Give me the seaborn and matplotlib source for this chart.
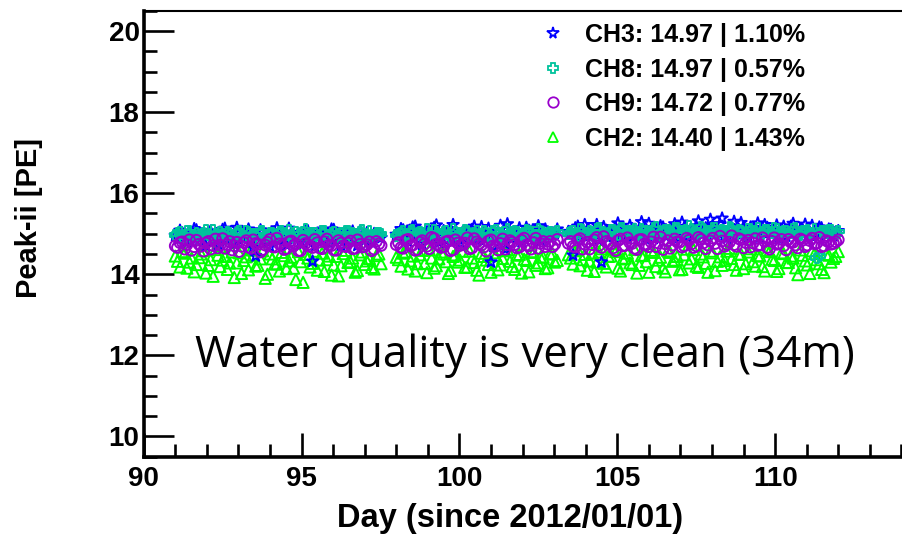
import matplotlib
matplotlib.use("Agg")
import matplotlib.pyplot as plt
from matplotlib.lines import Line2D
from matplotlib.ticker import MultipleLocator
import pandas as pd
import seaborn as sns

# Measurement times (days since 2012/01/01), three data-taking periods,
# first and second reading of each interval
day_run1 = [91.00, 91.15, 91.30, 91.45, 91.60, 91.75, 91.90, 92.05, 92.20, 92.35,
            92.50, 92.65, 92.80, 92.95, 93.10, 93.25, 93.40, 93.55, 93.70, 93.85,
            94.00, 94.15, 94.30, 94.45, 94.60, 94.75, 94.90, 95.05, 95.20, 95.35,
            95.50, 95.65, 95.80, 95.95, 96.10, 96.25, 96.40, 96.55, 96.70, 96.85,
            97.00, 97.15, 97.30, 97.45]
day_run2 = [98.00, 98.15, 98.30, 98.45, 98.60, 98.75, 98.90, 99.05, 99.20, 99.35,
            99.50, 99.65, 99.80, 99.95, 100.10, 100.25, 100.40, 100.55, 100.70, 100.85,
            101.00, 101.15, 101.30, 101.45, 101.60, 101.75, 101.90, 102.05, 102.20, 102.35,
            102.50, 102.65, 102.80, 102.95, 103.10]
day_run3 = [103.45, 103.60, 103.75, 103.90, 104.05, 104.20, 104.35, 104.50, 104.65, 104.80,
            104.95, 105.10, 105.25, 105.40, 105.55, 105.70, 105.85, 106.00, 106.15, 106.30,
            106.45, 106.60, 106.75, 106.90, 107.05, 107.20, 107.35, 107.50, 107.65, 107.80,
            107.95, 108.10, 108.25, 108.40, 108.55, 108.70, 108.85, 109.00, 109.15, 109.30,
            109.45, 109.60, 109.75, 109.90, 110.05, 110.20, 110.35, 110.50, 110.65, 110.80,
            110.95, 111.10, 111.25, 111.40, 111.55, 111.70, 111.85, 112.00]
day_run1_b = [91.07, 91.22, 91.37, 91.52, 91.67, 91.82, 91.97, 92.12, 92.27, 92.42,
              92.57, 92.72, 92.87, 93.02, 93.17, 93.32, 93.47, 93.62, 93.77, 93.92,
              94.07, 94.22, 94.37, 94.52, 94.67, 94.82, 94.97, 95.12, 95.27, 95.42,
              95.57, 95.72, 95.87, 96.02, 96.17, 96.32, 96.47, 96.62, 96.77, 96.92,
              97.07, 97.22, 97.37, 97.52]
day_run2_b = [98.07, 98.22, 98.37, 98.52, 98.67, 98.82, 98.97, 99.12, 99.27, 99.42,
              99.57, 99.72, 99.87, 100.02, 100.17, 100.32, 100.47, 100.62, 100.77, 100.92,
              101.07, 101.22, 101.37, 101.52, 101.67, 101.82, 101.97, 102.12, 102.27, 102.42,
              102.57, 102.72, 102.87, 103.02]
day_run3_b = [103.52, 103.67, 103.82, 103.97, 104.12, 104.27, 104.42, 104.57, 104.72, 104.87,
              105.02, 105.17, 105.32, 105.47, 105.62, 105.77, 105.92, 106.07, 106.22, 106.37,
              106.52, 106.67, 106.82, 106.97, 107.12, 107.27, 107.42, 107.57, 107.72, 107.87,
              108.02, 108.17, 108.32, 108.47, 108.62, 108.77, 108.92, 109.07, 109.22, 109.37,
              109.52, 109.67, 109.82, 109.97, 110.12, 110.27, 110.42, 110.57, 110.72, 110.87,
              111.02, 111.17, 111.32, 111.47, 111.62, 111.77, 111.92]
days = day_run1 + day_run2 + day_run3 + day_run1_b + day_run2_b + day_run3_b

# Peak-ii charge per channel [PE], in the same order as `days`
ch3_peak = [14.95, 15.08, 14.88, 14.99, 15.12, 14.81, 14.97, 15.05, 14.92, 14.74,
            15.10, 14.98, 14.86, 15.15, 14.93, 15.02, 14.79, 14.45, 15.09, 14.90,
            14.68, 15.04, 14.97, 14.85, 15.13, 14.94, 14.99, 14.76, 15.07, 14.32,
            15.01, 14.83, 14.96, 15.11, 14.89, 14.72, 15.03, 14.95, 14.87, 15.06,
            14.93, 14.80, 15.00, 14.92,
            14.98, 15.12, 14.90, 15.05, 15.18, 14.86, 15.01, 14.94, 15.15, 14.79,
            15.07, 14.99, 15.22, 14.88, 15.03, 14.96, 15.10, 14.83, 15.17, 14.97,
            14.30, 14.91, 15.20, 14.62, 15.02, 14.95, 15.14, 14.87, 15.08, 14.99,
            15.19, 14.90, 15.04, 14.97, 15.11,
            15.05, 14.47, 15.18, 14.96, 15.10, 15.02, 15.22, 14.30, 15.08, 14.99,
            15.15, 14.91, 15.04, 15.20, 14.95, 15.11, 15.01, 15.25, 14.88, 15.07,
            15.16, 14.98, 15.12, 15.03, 15.28, 14.93, 15.09, 15.19, 15.00, 15.14,
            15.35, 15.06, 15.24, 14.97, 15.13, 15.30, 15.02, 15.17, 14.92, 15.10,
            15.26, 15.04, 15.15, 14.99, 15.21, 15.08, 14.94, 15.18, 15.03, 15.12,
            15.23, 14.96, 15.09, 15.16, 15.01, 15.11, 14.95, 15.07,
            14.86, 15.02, 14.78, 14.95, 15.09, 14.90, 14.70, 15.06, 14.98, 14.84,
            15.13, 14.92, 14.75, 15.00, 14.88, 15.11, 14.66, 14.94, 15.04, 14.82,
            14.97, 15.14, 14.87, 14.73, 15.01, 14.93, 14.80, 15.08, 14.96, 14.69,
            15.03, 14.89, 14.77, 15.10, 14.91, 14.99, 14.83, 15.06, 14.71, 14.95,
            15.02, 14.85, 14.97, 14.90,
            14.93, 15.09, 14.81, 15.16, 14.97, 14.74, 15.04, 14.89, 15.21, 14.95,
            14.84, 15.12, 15.00, 14.77, 15.07, 14.92, 15.18, 14.86, 14.99, 15.13,
            14.69, 15.05, 14.94, 15.24, 14.88, 15.02, 14.80, 15.15, 14.96, 15.08,
            14.83, 15.11, 14.98, 15.01,
            15.00, 15.14, 14.88, 15.22, 14.97, 15.08, 14.84, 15.17, 15.03, 14.93,
            15.26, 15.05, 14.90, 15.12, 14.99, 15.29, 14.86, 15.10, 15.01, 15.19,
            14.95, 15.07, 15.24, 14.91, 15.15, 15.02, 14.98, 15.31, 15.09, 14.94,
            15.20, 15.04, 15.38, 14.89, 15.13, 15.00, 15.27, 14.96, 15.16, 15.06,
            14.92, 15.22, 15.03, 15.11, 14.87, 15.18, 15.05, 15.25, 14.99, 15.09,
            14.93, 15.20, 15.02, 15.14, 14.97, 15.10, 15.04]
ch8_peak = [14.97, 15.03, 14.92, 15.06, 14.95, 14.88, 15.01, 14.98, 15.08, 14.93,
            14.99, 15.04, 14.90, 15.02, 14.96, 15.07, 14.91, 14.98, 15.05, 14.94,
            15.00, 14.87, 15.03, 14.97, 15.09, 14.92, 14.99, 15.04, 14.95, 15.01,
            14.89, 15.06, 14.96, 15.02, 14.93, 15.00, 15.07, 14.94, 14.98, 15.03,
            14.90, 15.05, 14.97, 15.01,
            14.96, 15.02, 14.93, 15.07, 14.99, 15.04, 14.91, 15.00, 15.08, 14.95,
            15.03, 14.97, 15.10, 14.92, 15.01, 15.05, 14.94, 15.06, 14.98, 15.02,
            14.90, 15.09, 14.96, 15.03, 14.99, 15.07, 14.93, 15.01, 15.05, 14.97,
            15.11, 14.95, 15.02, 14.98, 15.06,
            15.00, 15.06, 14.96, 15.09, 15.02, 14.98, 15.11, 15.04, 14.95, 15.08,
            15.01, 15.13, 14.99, 15.05, 15.10, 14.97, 15.07, 15.03, 15.12, 14.96,
            15.04, 15.09, 15.00, 15.14, 14.98, 15.06, 15.11, 15.02, 15.16, 15.05,
            14.99, 15.12, 15.07, 15.01, 15.15, 15.03, 15.09, 14.97, 15.10, 15.04,
            15.13, 15.00, 15.08, 15.02, 15.11, 14.98, 15.06, 15.03, 15.12, 14.99,
            15.07, 15.01, 15.10, 14.45, 15.05, 15.08, 15.02, 15.06,
            15.00, 14.94, 15.05, 14.91, 15.02, 14.97, 15.08, 14.93, 14.99, 15.04,
            14.89, 15.01, 14.96, 15.06, 14.92, 15.03, 14.98, 14.88, 15.05, 14.95,
            15.02, 14.91, 15.07, 14.97, 14.93, 15.04, 14.99, 15.10, 14.94, 15.00,
            14.96, 15.06, 14.90, 15.03, 14.98, 14.92, 15.05, 15.01, 14.95, 15.08,
            14.97, 14.93, 15.02, 14.99,
            14.99, 15.05, 14.94, 15.08, 15.01, 14.96, 15.10, 14.93, 15.03, 14.98,
            15.06, 14.91, 15.04, 15.00, 15.09, 14.95, 15.02, 14.97, 15.07, 14.92,
            15.05, 15.00, 14.94, 15.11, 14.98, 15.03, 14.96, 15.08, 15.01, 14.93,
            15.06, 14.99, 15.04, 15.02,
            15.03, 14.98, 15.10, 15.01, 15.07, 14.96, 15.12, 15.04, 15.00, 15.09,
            14.97, 15.14, 15.02, 15.06, 14.99, 15.11, 15.05, 15.01, 15.15, 14.98,
            15.08, 15.03, 15.13, 15.00, 15.07, 15.17, 15.04, 14.99, 15.10, 15.06,
            15.14, 15.01, 15.08, 15.03, 15.12, 14.98, 15.07, 15.02, 15.11, 15.05,
            14.99, 15.09, 15.04, 15.13, 15.00, 15.07, 15.02, 15.10, 14.97, 15.05,
            15.09, 15.01, 14.40, 15.06, 15.03, 15.08, 15.00]
ch9_peak = [14.70, 14.78, 14.62, 14.85, 14.68, 14.74, 14.57, 14.81, 14.71, 14.65,
            14.88, 14.73, 14.60, 14.79, 14.69, 14.83, 14.64, 14.76, 14.55, 14.72,
            14.86, 14.67, 14.75, 14.61, 14.80, 14.70, 14.58, 14.84, 14.73, 14.66,
            14.78, 14.63, 14.87, 14.71, 14.59, 14.77, 14.68, 14.82, 14.64, 14.74,
            14.69, 14.80, 14.62, 14.75,
            14.73, 14.66, 14.84, 14.70, 14.59, 14.79, 14.75, 14.63, 14.88, 14.71,
            14.68, 14.82, 14.60, 14.77, 14.74, 14.90, 14.65, 14.80, 14.72, 14.57,
            14.85, 14.69, 14.76, 14.62, 14.83, 14.73, 14.67, 14.89, 14.70, 14.78,
            14.64, 14.81, 14.74, 14.68, 14.86,
            14.76, 14.69, 14.84, 14.62, 14.79, 14.73, 14.91, 14.66, 14.81, 14.75,
            14.58, 14.87, 14.71, 14.78, 14.64, 14.85, 14.74, 14.68, 14.92, 14.77,
            14.61, 14.83, 14.72, 14.80, 14.67, 14.89, 14.75, 14.70, 14.86, 14.63,
            14.82, 14.76, 14.94, 14.69, 14.79, 14.73, 14.88, 14.65, 14.84, 14.77,
            14.71, 14.90, 14.66, 14.81, 14.74, 14.86, 14.60, 14.79, 14.72, 14.87,
            14.68, 14.83, 14.75, 14.91, 14.70, 14.80, 14.76, 14.85,
            14.66, 14.80, 14.73, 14.59, 14.84, 14.69, 14.77, 14.62, 14.87, 14.72,
            14.64, 14.81, 14.70, 14.56, 14.78, 14.67, 14.85, 14.74, 14.61, 14.79,
            14.68, 14.89, 14.71, 14.63, 14.82, 14.75, 14.58, 14.76, 14.69, 14.86,
            14.65, 14.80, 14.72, 14.60, 14.83, 14.70, 14.77, 14.63, 14.85, 14.67,
            14.73, 14.58, 14.81, 14.71,
            14.78, 14.64, 14.86, 14.72, 14.61, 14.83, 14.69, 14.91, 14.74, 14.66,
            14.80, 14.58, 14.85, 14.71, 14.77, 14.63, 14.88, 14.75, 14.67, 14.82,
            14.70, 14.60, 14.87, 14.73, 14.79, 14.65, 14.84, 14.72, 14.62, 14.89,
            14.76, 14.68, 14.81, 14.74,
            14.81, 14.67, 14.88, 14.74, 14.62, 14.85, 14.71, 14.93, 14.77, 14.65,
            14.83, 14.70, 14.90, 14.76, 14.61, 14.86, 14.73, 14.80, 14.68, 14.92,
            14.75, 14.64, 14.87, 14.79, 14.70, 14.84, 14.66, 14.91, 14.77, 14.72,
            14.89, 14.63, 14.82, 14.74, 14.95, 14.69, 14.85, 14.78, 14.67, 14.88,
            14.73, 14.81, 14.62, 14.90, 14.76, 14.70, 14.86, 14.79, 14.65, 14.84,
            14.72, 14.89, 14.77, 14.68, 14.83, 14.74, 14.80]
ch2_peak = [14.45, 14.18, 14.52, 14.30, 14.06, 14.41, 14.58, 14.22, 13.95, 14.47,
            14.35, 14.12, 14.55, 14.28, 14.02, 14.43, 14.60, 14.20, 14.38, 13.90,
            14.50, 14.25, 14.08, 14.46, 14.33, 14.15, 14.56, 13.80, 14.40, 14.27,
            14.10, 14.52, 14.36, 13.98, 14.44, 14.21, 14.59, 14.31, 14.05, 14.48,
            14.24, 14.39, 14.13, 14.50,
            14.42, 14.20, 14.55, 14.33, 14.08, 14.48, 14.27, 14.60, 14.15, 14.38,
            14.50, 14.02, 14.44, 14.30, 14.57, 14.18, 14.40, 14.10, 14.52, 14.35,
            14.05, 14.46, 14.23, 14.58, 14.32, 14.12, 14.49, 14.37, 14.06, 14.54,
            14.28, 14.43, 14.16, 14.51, 14.34,
            14.48, 14.25, 14.60, 14.36, 14.10, 14.52, 14.30, 14.63, 14.18, 14.45,
            14.56, 14.08, 14.40, 14.28, 14.61, 14.22, 14.47, 14.05, 14.54, 14.35,
            14.15, 14.58, 14.32, 14.44, 14.12, 14.62, 14.38, 14.20, 14.50, 14.27,
            14.57, 14.09, 14.43, 14.34, 14.64, 14.24, 14.49, 14.14, 14.55, 14.31,
            14.46, 14.19, 14.59, 14.37, 14.07, 14.53, 14.29, 14.45, 14.16, 14.60,
            14.33, 14.02, 14.51, 14.26, 14.04, 14.47, 14.39, 14.56,
            14.32, 14.56, 14.15, 14.40, 14.24, 14.50, 14.03, 14.36, 14.61, 14.19,
            14.44, 14.28, 13.92, 14.53, 14.34, 14.11, 14.47, 14.22, 14.58, 14.00,
            14.38, 14.26, 14.54, 14.14, 14.42, 13.87, 14.31, 14.49, 14.18, 14.57,
            14.35, 14.07, 14.45, 14.23, 13.96, 14.51, 14.29, 14.40, 14.09, 14.55,
            14.33, 14.17, 14.46, 14.26,
            14.36, 14.52, 14.13, 14.45, 14.26, 14.59, 14.04, 14.40, 14.21, 14.55,
            14.31, 14.09, 14.48, 14.35, 14.17, 14.57, 14.29, 13.98, 14.44, 14.24,
            14.53, 14.11, 14.39, 14.61, 14.19, 14.47, 14.03, 14.34, 14.56, 14.22,
            14.42, 14.14, 14.50, 14.30,
            14.40, 14.58, 14.21, 14.49, 14.33, 14.07, 14.55, 14.27, 14.44, 14.62,
            14.15, 14.38, 14.52, 14.24, 14.03, 14.46, 14.31, 14.59, 14.19, 14.42,
            14.06, 14.54, 14.35, 14.11, 14.48, 14.28, 14.61, 14.17, 14.43, 14.05,
            14.53, 14.32, 14.22, 14.57, 14.39, 14.10, 14.50, 14.26, 14.63, 14.20,
            14.45, 14.08, 14.56, 14.34, 14.14, 14.51, 14.29, 14.40, 13.99, 14.47,
            14.23, 14.58, 14.36, 14.12, 14.49, 14.30, 14.44]

channels = ["CH3", "CH8", "CH9", "CH2"]
legend_labels = ["CH3: 14.97 | 1.10%", "CH8: 14.97 | 0.57%",
                 "CH9: 14.72 | 0.77%", "CH2: 14.40 | 1.43%"]
channel_peaks = {"CH3": ch3_peak, "CH8": ch8_peak, "CH9": ch9_peak, "CH2": ch2_peak}
channel_colors = {"CH3": "#0000ff", "CH8": "#00c39c", "CH9": "#9900cc", "CH2": "#00ff00"}
channel_markers = {"CH3": "*", "CH8": "P", "CH9": "o", "CH2": "^"}
channel_sizes = {"CH3": 75, "CH8": 60, "CH9": 60, "CH2": 65}

df = pd.concat(
    [pd.DataFrame({"day": days, "peak": channel_peaks[ch], "channel": ch}) for ch in channels],
    ignore_index=True,
)

sns.set_theme(style="white")
plt.rcParams["font.family"] = ["Liberation Sans", "DejaVu Sans"]
plt.rcParams["text.color"] = "black"
plt.rcParams["axes.labelcolor"] = "black"
plt.rcParams["xtick.color"] = "black"
plt.rcParams["ytick.color"] = "black"

fig = plt.figure(figsize=(9.03, 5.37), dpi=100)
ax = fig.add_axes([0.1591, 0.1495, 0.8409, 0.8305])

# CH2 underneath, CH9 on top
for ch in ["CH2", "CH3", "CH8", "CH9"]:
    sub = df[df["channel"] == ch]
    sns.scatterplot(data=sub, x="day", y="peak", ax=ax,
                    marker=channel_markers[ch], s=channel_sizes[ch],
                    facecolor="none", edgecolor=channel_colors[ch],
                    linewidth=1.4, legend=False, zorder=3)

ax.set_xlim(90, 114.05)
ax.set_ylim(9.5, 20.5)
ax.xaxis.set_minor_locator(MultipleLocator(1))
ax.yaxis.set_minor_locator(MultipleLocator(0.5))
ax.set_xticks([90, 95, 100, 105, 110])
ax.set_xticklabels(["90", "95", "100", "105", "110"])
ax.set_yticks([10, 12, 14, 16, 18, 20])
ax.set_yticklabels(["10", "12", "14", "16", "18", "20"])

ax.tick_params(axis="both", which="both", direction="in", colors="black",
               bottom=True, left=True, top=False, right=False)
ax.tick_params(axis="x", which="major", length=17, width=1.9, pad=7, labelsize=20)
ax.tick_params(axis="x", which="minor", length=9.2, width=1.9)
ax.tick_params(axis="y", which="major", length=21.6, width=1.9, pad=3, labelsize=20)
ax.tick_params(axis="y", which="minor", length=9.4, width=1.9)
for lab in ax.get_xticklabels() + ax.get_yticklabels():
    lab.set_fontweight("bold")

for side in ["left", "bottom"]:
    ax.spines[side].set_linewidth(2.6)
    ax.spines[side].set_color("black")
ax.spines["top"].set_linewidth(1.5)
ax.spines["top"].set_color("black")
ax.spines["right"].set_visible(False)

ax.set_xlabel("Day (since 2012/01/01)", fontsize=23.5, fontweight="bold")
ax.xaxis.set_label_coords(0.482, -0.103)
ax.set_ylabel("Peak-ii [PE]", fontsize=21, fontweight="bold")
ax.yaxis.set_label_coords(-0.133, 0.535)

handles = [Line2D([], [], linestyle="none", marker=channel_markers[ch],
                  markersize=7.5 if ch != "CH3" else 8.5,
                  markerfacecolor="none", markeredgecolor=channel_colors[ch],
                  markeredgewidth=1.3)
           for ch in channels]
ax.legend(handles, legend_labels, loc="upper left",
          bbox_to_anchor=(0.506, 1.0), frameon=False,
          prop={"family": ["Liberation Sans"], "weight": "bold", "size": 18},
          handletextpad=0.78, labelspacing=0.42, handlelength=1.0,
          borderaxespad=0.1)

ax.text(0.067, 0.201, "Water quality is very clean (34m)", transform=ax.transAxes,
        fontsize=31.5, family=["Open Sans", "DejaVu Sans"], color="black",
        ha="left", va="baseline")

fig.savefig("out.png", dpi=100, facecolor="white")
